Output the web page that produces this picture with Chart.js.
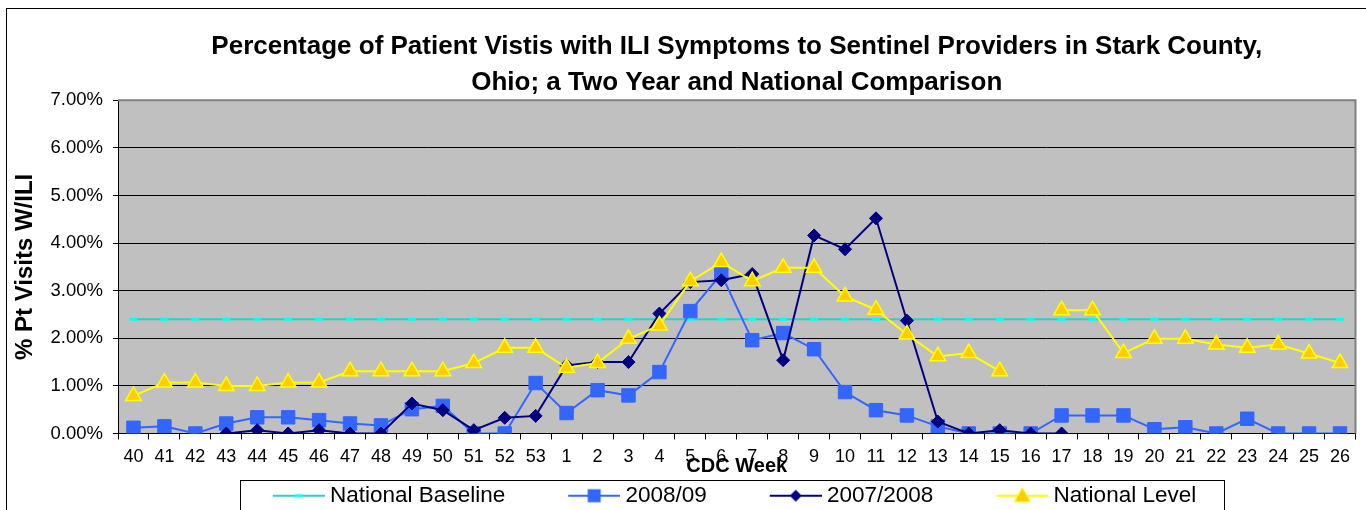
<!DOCTYPE html>
<html>
<head>
<meta charset="utf-8">
<title>ILI Stark County</title>
<script src="https://cdn.jsdelivr.net/npm/chart.js@4/dist/chart.umd.min.js"></script>
<style>
html, body { margin: 0; padding: 0; background: #fff; overflow: hidden; }
#wrap { position: relative; width: 1366px; height: 517px; }
</style>
</head>
<body>
<div id="wrap"><canvas id="iliChart"></canvas></div>
<script>
//----------ILI data----------

var weeks = ['40','41','42','43','44','45','46','47','48','49','50','51','52','53',
	'1','2','3','4','5','6','7','8','9','10','11','12','13','14','15','16','17','18','19','20','21','22','23','24','25','26'];

var nationalBaseline = [2.4,2.4,2.4,2.4,2.4,2.4,2.4,2.4,2.4,2.4,2.4,2.4,2.4,2.4,
	2.4,2.4,2.4,2.4,2.4,2.4,2.4,2.4,2.4,2.4,2.4,2.4,2.4,2.4,2.4,2.4,2.4,2.4,2.4,2.4,2.4,2.4,2.4,2.4,2.4,2.4];

var season0809 = [0.12,0.15,0,0.21,0.34,0.34,0.28,0.21,0.17,0.51,0.58,0,0,1.06,
	0.43,0.91,0.8,1.29,2.57,3.35,1.96,2.11,1.77,0.87,0.49,0.38,0.15,0,0,0,0.38,0.38,0.38,0.09,0.13,0,0.31,0,0,0];

var season0708 = [null,null,null,0,0.07,0,0.07,0,0,0.63,0.49,0.07,0.33,0.37,
	1.43,1.5,1.5,2.52,3.18,3.22,3.35,1.54,4.16,3.87,4.52,2.37,0.25,0,0.07,0,0,null,null,null,null,null,null,null,null,null];

var nationalLevel = [0.79,1.07,1.07,1.0,1.0,1.07,1.07,1.31,1.31,1.31,1.31,1.48,1.8,1.8,
	1.38,1.48,1.99,2.27,3.2,3.6,3.2,3.48,3.48,2.88,2.6,2.08,1.62,1.69,1.31,null,2.59,2.59,1.69,1.99,1.99,1.87,1.8,1.87,1.68,1.48];

var yTicks = [0,1,2,3,4,5,6,7];

var FONT = "'Liberation Sans', Arial, sans-serif";

// legend sample: a short line with the marker in the middle
// -----------------------------------
function legendSample(kind, lineColor, fill, stroke){
	var c = document.createElement('canvas');
	c.width = 121; c.height = 24;
	var g = c.getContext('2d');
	var x0 = 69, x1 = 121, cx = 95, cy = 12;
	g.strokeStyle = lineColor; g.lineWidth = 2;
	g.beginPath(); g.moveTo(x0, cy); g.lineTo(x1, cy); g.stroke();
	g.fillStyle = fill; g.strokeStyle = stroke; g.lineWidth = 1;
	if (kind == 'dash') {
		g.fillRect(cx - 4, cy - 1.5, 8, 3);
	} else if (kind == 'square') {
		g.fillRect(cx - 6.5, cy - 6.5, 13, 13);
	} else if (kind == 'diamond') {
		g.beginPath(); g.moveTo(cx, cy - 6); g.lineTo(cx + 6, cy); g.lineTo(cx, cy + 6); g.lineTo(cx - 6, cy); g.closePath(); g.fill();
	} else if (kind == 'triangle') {
		g.beginPath(); g.moveTo(cx, cy - 8); g.lineTo(cx + 8, cy + 6); g.lineTo(cx - 8, cy + 6); g.closePath(); g.fill(); g.stroke();
	}
	return c;
}

var samples = [
	legendSample('dash', '#33CCCC', '#00FFFF', '#00FFFF'),
	legendSample('square', '#3366FF', '#3366FF', '#3366FF'),
	legendSample('diamond', '#000080', '#000080', '#000080'),
	legendSample('triangle', '#FFFF00', '#FFCC00', '#FFFF00')
];

// plot background, frames
// -----------------------------------
var framePlugin = {
	id: 'frames',
	beforeDraw: function(chart){
		var a = chart.chartArea, ctx = chart.ctx;
		ctx.save();
		ctx.fillStyle = '#C0C0C0';
		ctx.fillRect(a.left, a.top, a.right - a.left, a.bottom - a.top);
		ctx.strokeStyle = '#000';
		ctx.lineWidth = 1;
		ctx.strokeRect(6.5, 8.5, 3000, 3000);
		ctx.restore();
	},
	beforeDatasetsDraw: function(chart){
		var a = chart.chartArea, ctx = chart.ctx;
		ctx.save();
		ctx.strokeStyle = '#808080';
		ctx.lineWidth = 2;
		ctx.beginPath();
		ctx.moveTo(a.left, a.top); ctx.lineTo(a.right, a.top); ctx.lineTo(a.right, a.bottom);
		ctx.stroke();
		ctx.restore();
	},
	afterDraw: function(chart){
		var lg = chart.legend, ctx = chart.ctx;
		if (!lg || !lg.legendHitBoxes || !lg.legendHitBoxes.length) return;
		var hb = lg.legendHitBoxes;
		var first = hb[0], last = hb[hb.length - 1];
		var left = Math.round(first.left + 109 + 5.75 - 52 - 33) + 0.5;
		var right = Math.round(last.left + last.width + 28) + 0.5;
		var top = Math.round(first.top + 11 - 15.5) + 0.5;
		ctx.save();
		ctx.strokeStyle = '#000';
		ctx.lineWidth = 1;
		ctx.strokeRect(left, top, right - left, 100);
		ctx.restore();
	}
};

var ctx = document.getElementById('iliChart').getContext('2d');
var myChart = new Chart(ctx, {
	type: 'line',
	data: {
		labels: weeks,
		datasets: [
		{
			label: 'National Baseline',
			data: nationalBaseline,
			borderColor: '#33CCCC',
			borderWidth: 2,
			pointStyle: 'line',
			pointRadius: 4,
			pointBorderColor: '#00FFFF',
			pointBorderWidth: 3,
			order: 3
		},
		{
			label: '2008/09',
			data: season0809,
			borderColor: '#3366FF',
			backgroundColor: '#3366FF',
			borderWidth: 2,
			pointStyle: 'rect',
			pointRadius: 9.5,
			pointBorderWidth: 1,
			order: 2
		},
		{
			label: '2007/2008',
			data: season0708,
			borderColor: '#000080',
			backgroundColor: '#000080',
			borderWidth: 2,
			pointStyle: 'rectRot',
			pointRadius: 6.5,
			pointBorderWidth: 1,
			order: 1
		},
		{
			label: 'National Level',
			data: nationalLevel,
			borderColor: '#FFFF00',
			borderWidth: 2,
			pointStyle: 'triangle',
			pointRadius: 9,
			pointBackgroundColor: '#FFCC00',
			pointBorderColor: '#FFFF00',
			pointBorderWidth: 1.5,
			order: 0
		}
		]
	},
	options: {
		responsive: true,
		maintainAspectRatio: false,
		animation: false,
		layout: { padding: { left: 44, right: 4, top: 0, bottom: 0 } },
		elements: { line: { tension: 0 } },
		plugins: {
			tooltip: { enabled: false },
			title: {
				display: true,
				fullSize: false,
				text: ['Percentage of Patient Vistis with ILI Symptoms to Sentinel Providers in Stark County,',
					'Ohio; a Two Year and National Comparison'],
				color: '#000',
				font: { family: FONT, size: 26, weight: 'bold', lineHeight: 1.37 },
				padding: { top: 29, bottom: 0 }
			},
			legend: {
				display: true,
				position: 'bottom',
				labels: {
					color: '#000',
					font: { family: FONT, size: 22.5 },
					usePointStyle: true,
					pointStyleWidth: 109,
					padding: 0,
					generateLabels: function(chart){
						return chart.data.datasets.map(function(ds, i){
							return { text: ds.label, datasetIndex: i, pointStyle: samples[i], fontColor: '#000', hidden: false, lineWidth: 0 };
						});
					}
				}
			}
		},
		scales: {
			x: {
				offset: true,
				grid: { display: true, drawOnChartArea: false, drawTicks: true, tickLength: 6, offset: true, color: '#000' },
				border: { display: true, color: '#000' },
				ticks: { color: '#000', font: { family: FONT, size: 18 }, autoSkip: false, maxRotation: 0, padding: 7 },
				title: {
					display: true,
					text: 'CDC Week',
					color: '#000',
					font: { family: FONT, size: 20, weight: 'bold' },
					padding: { top: 0, bottom: 6 }
				},
				afterFit: function(scale){ scale.height = 51; }
			},
			y: {
				min: 0,
				max: 7,
				afterBuildTicks: function(scale){
					scale.ticks = yTicks.map(function(v){ return { value: v }; });
				},
				grid: { color: '#000', lineWidth: 1, tickLength: 5 },
				border: { display: true, color: '#000' },
				ticks: {
					color: '#000',
					font: { family: FONT, size: 18.5 },
					padding: 10,
					callback: function(v){ return v.toFixed(2) + '%'; }
				},
				title: {
					display: true,
					text: '% Pt Visits W/ILI',
					color: '#000',
					font: { family: FONT, size: 24, weight: 'bold' },
					padding: { top: -33, bottom: 0 }
				},
				afterFit: function(scale){ scale.width = 74; }
			}
		}
	},
	plugins: [framePlugin]
});
</script>
</body>
</html>
